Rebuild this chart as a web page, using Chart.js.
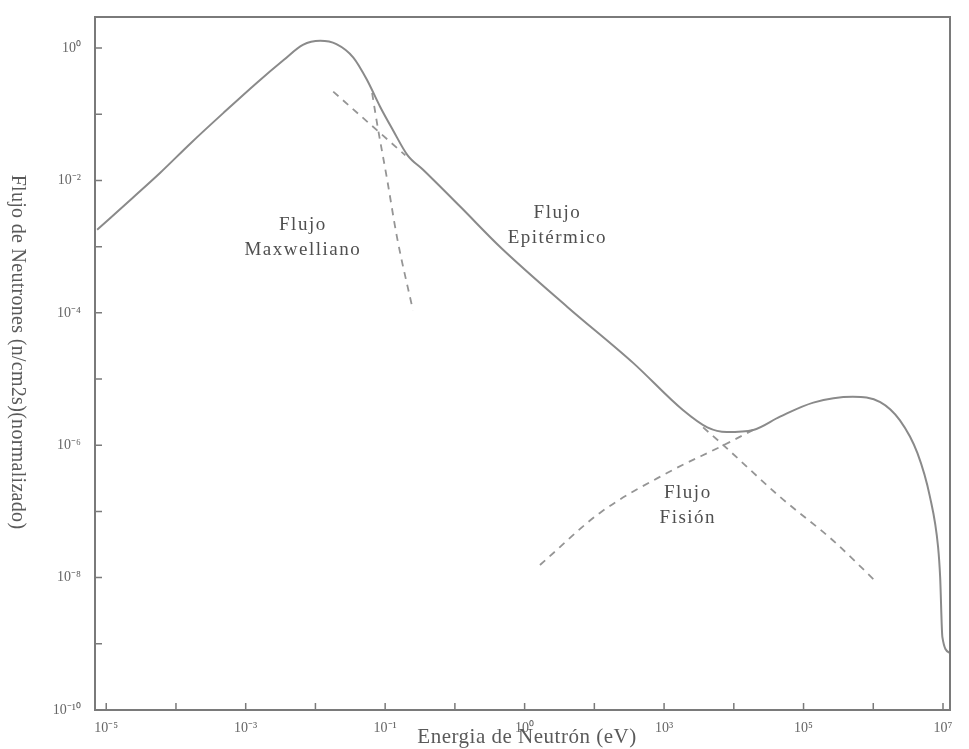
<!DOCTYPE html>
<html lang="es">
<head>
    <meta charset="UTF-8">
    <title>Flujo de Neutrones</title>
    <script src="https://cdn.jsdelivr.net/npm/chart.js"></script>
    <style>
        body { margin: 0; background: #fff; }
        #wrap { width: 969px; height: 749px; }
    </style>
</head>
<body>
    <div id="wrap"><canvas id="myChart" width="969" height="749"></canvas></div>

    <script>
        // curva completa (solida)
        const energia = [7.4e-6, 2.45e-5, 5.9e-5, 1.6e-4, 4.8e-4, 1.45e-3, 3.5e-3, 6.6e-3, 1.17e-2, 2.0e-2,
                         3.5e-2, 5.5e-2, 8.5e-2, 0.129, 0.21, 0.35, 1.2, 4.5, 41, 363, 1860, 4170, 7900,
                         1.9e4, 4.6e4, 1.38e5, 5.1e5, 1.26e6, 2.4e6, 4.3e6, 6.5e6, 8.5e6, 9.1e6, 9.8e6, 1.26e7];
        const flujo = [1.8e-3, 5.6e-3, 1.3e-2, 3.6e-2, 0.105, 0.30, 0.66, 1.12, 1.29, 1.15,
                       0.72, 0.33, 0.129, 5.8e-2, 2.4e-2, 1.45e-2, 4.0e-3, 9.8e-4, 1.23e-4, 1.74e-5, 3.4e-6, 1.86e-6, 1.58e-6,
                       1.7e-6, 2.7e-6, 4.4e-6, 5.4e-6, 4.5e-6, 2.4e-6, 7.6e-7, 1.66e-7, 2.9e-8, 1.02e-8, 1.26e-9, 7.2e-10];

        // lineas discontinuas
        const maxwellE = [6.5e-2, 7.8e-2, 0.107, 0.148, 0.25];
        const maxwellF = [0.21, 6.5e-2, 1.02e-2, 1.38e-3, 1.1e-4];
        const epiAltoE = [1.8e-2, 0.195];
        const epiAltoF = [0.22, 2.4e-2];
        const epiBajoE = [3630, 7100, 4.6e4, 2.6e5, 1.12e6];
        const epiBajoF = [1.86e-6, 1.0e-6, 1.66e-7, 3.7e-8, 8.5e-9];
        const fisionE = [16.6, 120, 1100, 7100, 2.1e4];
        const fisionF = [1.55e-8, 9.5e-8, 3.8e-7, 1.0e-6, 1.8e-6];

        // ticks
        const xDecadas = [-5, -4, -3, -2, -1, 0, 1, 2, 3, 4, 5, 6, 7];
        const xEtiquetas = {'-5': '10⁻⁵', '-3': '10⁻³', '-1': '10⁻¹', '1': '10⁰', '3': '10³', '5': '10⁵', '7': '10⁷'};
        const yDecadas = [0, -1, -2, -3, -4, -5, -6, -7, -8, -9, -10];
        const yEtiquetas = {'0': '10⁰', '-2': '10⁻²', '-4': '10⁻⁴', '-6': '10⁻⁶', '-8': '10⁻⁸', '-10': '10⁻¹⁰'};

        // textos sobre la grafica (energia, flujo de la primera linea)
        const notas = [
            {texto: ['Flujo', 'Maxwelliano'], e: 6.6e-3, f: 2.1e-3},
            {texto: ['Flujo', 'Epitérmico'], e: 29.5, f: 3.2e-3},
            {texto: ['Flujo', 'Fisión'], e: 2190, f: 1.9e-7}
        ];

        const gris = '#8a8a8a';
        const pares = (xs, ys) => xs.map((x, i) => ({x: x, y: ys[i]}));

        const dashed = (xs, ys) => ({
            data: pares(xs, ys),
            borderColor: '#959595',
            borderWidth: 1.8,
            borderDash: [7, 6],
            pointRadius: 0,
            cubicInterpolationMode: 'monotone',
            fill: false
        });

        const marco = {
            id: 'marco',
            afterDraw(chart) {
                const ctx = chart.ctx;
                const a = chart.chartArea;
                const sx = chart.scales.x, sy = chart.scales.y;
                ctx.save();
                ctx.strokeStyle = '#7a7a7a';
                ctx.lineWidth = 2;
                ctx.strokeRect(a.left, a.top, a.right - a.left, a.bottom - a.top);

                // ticks hacia adentro
                ctx.lineWidth = 1.5;
                ctx.beginPath();
                xDecadas.forEach(d => {
                    const px = sx.getPixelForValue(Math.pow(10, d));
                    ctx.moveTo(px, a.bottom);
                    ctx.lineTo(px, a.bottom - 7);
                });
                yDecadas.forEach(d => {
                    const py = sy.getPixelForValue(Math.pow(10, d));
                    ctx.moveTo(a.left, py);
                    ctx.lineTo(a.left + 7, py);
                });
                ctx.stroke();

                // notas
                ctx.fillStyle = '#4f4f4f';
                ctx.font = '19px "Liberation Serif"';
                ctx.letterSpacing = '1.5px';
                ctx.textAlign = 'center';
                ctx.textBaseline = 'middle';
                notas.forEach(n => {
                    const px = sx.getPixelForValue(n.e);
                    const py = sy.getPixelForValue(n.f);
                    n.texto.forEach((t, i) => ctx.fillText(t, px, py + i * 25));
                });

                // titulos de ejes
                ctx.letterSpacing = '0.5px';
                ctx.font = '21px "Liberation Serif"';
                ctx.fillStyle = '#5a5a5a';
                ctx.fillText('Energia de Neutrón (eV)', 527, 737);

                ctx.letterSpacing = '0.3px';
                ctx.translate(17, 352);
                ctx.rotate(Math.PI / 2);
                ctx.font = '20px "Liberation Serif"';
                ctx.fillText('Flujo de Neutrones (n/cm2s)(normalizado)', 0, 0);
                ctx.restore();
            }
        };

        const ctx = document.getElementById('myChart').getContext('2d');
        const myChart = new Chart(ctx, {
            type: 'line',
            data: {
                datasets: [{
                    data: pares(energia, flujo),
                    borderColor: gris,
                    borderWidth: 2,
                    pointRadius: 0,
                    cubicInterpolationMode: 'monotone',
                    fill: false
                },
                    dashed(maxwellE, maxwellF),
                    dashed(epiAltoE, epiAltoF),
                    dashed(epiBajoE, epiBajoF),
                    dashed(fisionE, fisionF)
                ]
            },
            options: {
                responsive: false,
                animation: false,
                layout: { padding: { top: 17, right: 19, left: 0, bottom: 0 } },
                plugins: {
                    legend: { display: false },
                    tooltip: { enabled: false }
                },
                scales: {
                    x: {
                        type: 'logarithmic',
                        min: 6.9e-6,
                        max: 1.26e7,
                        grid: { display: false },
                        border: { display: false },
                        afterFit: s => { s.height = 39; },
                        afterBuildTicks: s => { s.ticks = xDecadas.map(d => ({value: Math.pow(10, d)})); },
                        ticks: {
                            autoSkip: false,
                            maxRotation: 0,
                            padding: 2,
                            color: '#666',
                            font: { family: 'Liberation Serif', size: 14 },
                            callback: v => xEtiquetas[Math.round(Math.log10(v))] || ''
                        }
                    },
                    y: {
                        type: 'logarithmic',
                        min: 1e-10,
                        max: 2.95,
                        grid: { display: false },
                        border: { display: false },
                        afterFit: s => { s.width = 95; },
                        afterBuildTicks: s => { s.ticks = yDecadas.map(d => ({value: Math.pow(10, d)})); },
                        ticks: {
                            autoSkip: false,
                            padding: 6,
                            color: '#666',
                            font: { family: 'Liberation Serif', size: 14 },
                            callback: v => yEtiquetas[Math.round(Math.log10(v))] || ''
                        }
                    }
                }
            },
            plugins: [marco]
        });
    </script>
</body>
</html>
